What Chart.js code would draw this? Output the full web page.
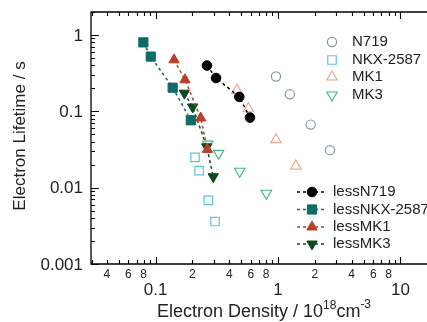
<!DOCTYPE html>
<html>
<head>
<meta charset="utf-8">
<script src="https://cdn.jsdelivr.net/npm/chart.js@4.4.0/dist/chart.umd.min.js"></script>
<style>
  html, body { margin: 0; padding: 0; background: #fff; }
  #wrap { width: 427px; height: 322px; }
</style>
</head>
<body>
<div id="wrap"><canvas id="c" width="427" height="322"></canvas></div>
<script>
// data (x: 10^18 cm^-3, y: s)
const n719X = [0.963, 1.25, 1.85, 2.66];
const n719Y = [0.286, 0.167, 0.067, 0.031];
const nkxX = [0.21, 0.227, 0.27, 0.306];
const nkxY = [0.0249, 0.0167, 0.0068, 0.0036];
const mk1X = [0.463, 0.573, 0.963, 1.40];
const mk1Y = [0.188, 0.108, 0.0425, 0.0192];
const mk3X = [0.267, 0.328, 0.487, 0.803];
const mk3Y = [0.0371, 0.0281, 0.0164, 0.00845];

const lessN719X = [0.263, 0.312, 0.483, 0.591];
const lessN719Y = [0.398, 0.273, 0.1545, 0.0828];
const lessNkxX = [0.0795, 0.0914, 0.138, 0.194];
const lessNkxY = [0.80, 0.521, 0.204, 0.0763];
const lessMk1X = [0.1416, 0.174, 0.234, 0.265];
const lessMk1Y = [0.472, 0.259, 0.0818, 0.0317];
const lessMk3X = [0.172, 0.201, 0.262, 0.296];
const lessMk3Y = [0.173, 0.114, 0.0343, 0.0139];

const xMajorTicks = [0.1, 1, 10];
const xMajorLabels = ['0.1', '1', '10'];
const xMinorTicks = [0.04, 0.06, 0.08, 0.2, 0.4, 0.6, 0.8, 2, 4, 6, 8];
const xMinorLabels = ['4', '6', '8', '2', '4', '6', '8', '2', '4', '6', '8'];
const yMajorTicks = [1, 0.1, 0.01, 0.001];
const yMajorLabels = ['1', '0.1', '0.01', '0.001'];

const FONT = '"Liberation Sans", Arial, Helvetica, sans-serif';

function pts(xs, ys) {
    return xs.map((x, i) => ({ x: x, y: ys[i] }));
}

function filled(label, xs, ys, color, style, radius, rotation) {
    return {
        label: label,
        data: pts(xs, ys),
        showLine: true,
        borderColor: color,
        borderWidth: 1.5,
        borderDash: [3, 3],
        backgroundColor: color,
        pointBackgroundColor: color,
        pointBorderColor: color,
        pointBorderWidth: 1,
        pointStyle: style,
        pointRadius: radius,
        pointRotation: rotation || 0
    };
}

function hollow(label, xs, ys, color, style, radius, rotation) {
    return {
        label: label,
        data: pts(xs, ys),
        showLine: false,
        borderColor: color,
        backgroundColor: 'rgba(0,0,0,0)',
        pointBackgroundColor: 'rgba(0,0,0,0)',
        pointBorderColor: color,
        pointBorderWidth: 1.2,
        pointStyle: style,
        pointRadius: radius,
        pointRotation: rotation || 0
    };
}

const datasets = [
    filled('lessN719', lessN719X, lessN719Y, '#000000', 'circle', 4.8),
    filled('lessNKX-2587', lessNkxX, lessNkxY, '#0f6b68', 'rect', 6.5),
    filled('lessMK1', lessMk1X, lessMk1Y, '#b8402a', 'triangle', 6),
    filled('lessMK3', lessMk3X, lessMk3Y, '#0f4a1e', 'triangle', 6, 180),
    hollow('N719', n719X, n719Y, '#7f9aa6', 'circle', 4.6),
    hollow('NKX-2587', nkxX, nkxY, '#5cc3d8', 'rect', 6),
    hollow('MK1', mk1X, mk1Y, '#eba88e', 'triangle', 6),
    hollow('MK3', mk3X, mk3Y, '#45b98d', 'triangle', 6, 180)
];

const axesPlugin = {
    id: 'axesPlugin',
    afterDraw(chart) {
        const ctx = chart.ctx;
        const xs = chart.scales.x, ys = chart.scales.y;
        const a = chart.chartArea;
        ctx.save();
        ctx.strokeStyle = '#000';
        ctx.lineWidth = 1.3;

        // frame
        ctx.beginPath();
        ctx.moveTo(427, a.top); ctx.lineTo(a.left, a.top);
        ctx.lineTo(a.left, a.bottom); ctx.lineTo(427, a.bottom);
        ctx.stroke();

        // ticks, inward
        ctx.lineWidth = 1.1;
        ctx.beginPath();
        for (let d = 0.01; d <= 10.5; d *= 10) {
            for (let m = 1; m <= 9; m++) {
                const v = m * d;
                if (v < xs.min || v > xs.max) continue;
                const px = Math.round(xs.getPixelForValue(v)) + 0.5;
                const len = m === 1 ? 7 : 4;
                ctx.moveTo(px, a.bottom); ctx.lineTo(px, a.bottom - len);
                ctx.moveTo(px, a.top); ctx.lineTo(px, a.top + len);
            }
        }
        for (let d = 0.001; d <= 1.5; d *= 10) {
            for (let m = 1; m <= 9; m++) {
                const v = m * d;
                if (v < ys.min || v > ys.max) continue;
                const py = Math.round(ys.getPixelForValue(v)) + 0.5;
                const len = m === 1 ? 8 : 4;
                ctx.moveTo(a.left, py); ctx.lineTo(a.left + len, py);
            }
        }
        ctx.stroke();

        // tick labels
        ctx.fillStyle = '#222';
        ctx.textAlign = 'center';
        ctx.textBaseline = 'middle';
        ctx.font = '12px ' + FONT;
        xMinorTicks.forEach((v, i) => {
            ctx.fillText(xMinorLabels[i], xs.getPixelForValue(v), a.bottom + 11);
        });
        ctx.font = '17px ' + FONT;
        xMajorTicks.forEach((v, i) => {
            ctx.fillText(xMajorLabels[i], xs.getPixelForValue(v), a.bottom + 26);
        });
        ctx.textAlign = 'right';
        yMajorTicks.forEach((v, i) => {
            ctx.fillText(yMajorLabels[i], a.left - 8, ys.getPixelForValue(v) + 1);
        });

        // axis titles
        ctx.textAlign = 'left';
        ctx.textBaseline = 'alphabetic';
        const base = 317;
        const parts = [['Electron Density / 10', 18, 0], ['18', 12, -8], ['cm', 18, 0], ['-3', 12, -9]];
        let total = 0;
        parts.forEach(p => {
            ctx.font = p[1] + 'px ' + FONT;
            total += ctx.measureText(p[0]).width;
        });
        let tx = 264 - total / 2;
        parts.forEach(p => {
            ctx.font = p[1] + 'px ' + FONT;
            ctx.fillText(p[0], tx, base + p[2]);
            tx += ctx.measureText(p[0]).width;
        });
        ctx.save();
        ctx.translate(20, 136);
        ctx.rotate(-Math.PI / 2);
        ctx.textAlign = 'center';
        ctx.textBaseline = 'middle';
        ctx.font = '17px ' + FONT;
        ctx.fillText('Electron Lifetime / s', 0, 0);
        ctx.restore();

        // legends
        const drawPoint = Chart.helpers.drawPoint;
        ctx.font = '15px ' + FONT;
        ctx.textAlign = 'left';
        ctx.textBaseline = 'middle';
        const hollowSets = datasets.slice(4);
        const upperY = [42, 60, 77, 95];
        hollowSets.forEach((ds, i) => {
            ctx.strokeStyle = ds.pointBorderColor;
            ctx.lineWidth = 1.2;
            ctx.fillStyle = 'rgba(0,0,0,0)';
            drawPoint(ctx, { pointStyle: ds.pointStyle, radius: ds.pointRadius, rotation: ds.pointRotation, borderWidth: 1.2 }, 332, upperY[i]);
            ctx.fillStyle = '#222';
            ctx.fillText(ds.label, 352, upperY[i]);
        });
        const filledSets = datasets.slice(0, 4);
        const lowerY = [192, 209.5, 227, 244];
        filledSets.forEach((ds, i) => {
            const y = lowerY[i];
            ctx.strokeStyle = ds.borderColor;
            ctx.lineWidth = 1.5;
            ctx.setLineDash([3, 3]);
            ctx.beginPath();
            ctx.moveTo(297, y); ctx.lineTo(327, y);
            ctx.stroke();
            ctx.setLineDash([]);
            ctx.fillStyle = ds.pointBackgroundColor;
            ctx.lineWidth = 1;
            drawPoint(ctx, { pointStyle: ds.pointStyle, radius: ds.pointRadius, rotation: ds.pointRotation, borderWidth: 1 }, 312, y);
            ctx.fillStyle = '#222';
            ctx.fillText(ds.label, 333, y);
        });
        ctx.restore();
    }
};

new Chart(document.getElementById('c'), {
    type: 'scatter',
    data: { datasets: datasets },
    options: {
        responsive: false,
        animation: false,
        devicePixelRatio: 1,
        layout: { autoPadding: false, padding: { left: 91, top: 12, right: 0, bottom: 58 } },
        plugins: { legend: { display: false }, tooltip: { enabled: false } },
        scales: {
            x: { type: 'logarithmic', min: 0.0297, max: 16.5, display: false },
            y: { type: 'logarithmic', min: 0.001, max: 2, display: false }
        }
    },
    plugins: [axesPlugin]
});
</script>
</body>
</html>
